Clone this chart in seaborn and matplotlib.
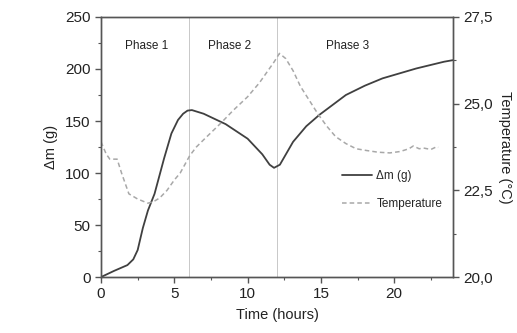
import numpy as np
import pandas as pd
import matplotlib
matplotlib.use("Agg")
import matplotlib.pyplot as plt
from matplotlib.ticker import MultipleLocator, FuncFormatter
import seaborn as sns

# mass change (g) vs time (hours)
mass_t = [0, 0.9, 1.8, 2.2, 2.5, 2.85, 3.2, 3.65, 4.3, 4.8, 5.25, 5.6, 5.9,
          6.2, 7.0, 8.5, 10.0, 11.0, 11.5, 11.8, 12.2, 13.1, 14.0, 14.9,
          16.7, 18.0, 19.2, 21.5, 23.4, 24.0]
mass_g = [0, 6, 11.5, 17, 26, 47, 64, 80, 114, 138, 151, 157, 160,
          160.5, 157, 147, 133, 118, 108, 105, 108, 130, 145, 156,
          175, 184, 191, 200.5, 207, 208.5]

# temperature (degC) vs time (hours)
temp_t = [0, 0.35, 0.6, 1.1, 1.4, 1.9, 2.5, 3.2, 3.6, 4.0, 4.5, 5.0, 5.4,
          5.7, 6.05, 6.5, 7.1, 8.2, 9.0, 10.0, 10.8, 11.3, 11.8, 12.17,
          12.6, 13.1, 13.6, 14.2, 14.8, 15.4, 16.0, 16.7, 17.4, 18.1, 18.9,
          19.7, 20.4, 21.0, 21.3, 21.7, 22.0, 22.5, 22.9, 23.0]
temp_c = [23.9, 23.55, 23.4, 23.4, 23.0, 22.4, 22.25, 22.13, 22.18, 22.28,
          22.5, 22.8, 23.0, 23.23, 23.5, 23.75, 24.0, 24.45, 24.8, 25.2,
          25.6, 25.9, 26.2, 26.45, 26.3, 25.95, 25.5, 25.1, 24.7, 24.35,
          24.05, 23.85, 23.7, 23.65, 23.6, 23.58, 23.62, 23.7, 23.78, 23.7,
          23.72, 23.68, 23.76, 23.74]

phase_names = ["Phase 1", "Phase 2", "Phase 3"]
phase_label_x = [3.1, 8.8, 16.8]
phase_bounds = [6, 12]

mass_df = pd.DataFrame({"time": mass_t, "mass": mass_g})
temp_df = pd.DataFrame({"time": temp_t, "temp": temp_c})

sns.set_theme(style="ticks")
plt.rcParams["font.family"] = ["Liberation Sans", "DejaVu Sans"]
plt.rcParams["xtick.direction"] = "out"
plt.rcParams["ytick.direction"] = "out"

fig = plt.figure(figsize=(5.17, 3.33), dpi=100)
ax = fig.add_axes([0.1954, 0.168, 0.6806, 0.781])
ax2 = ax.twinx()

for b in phase_bounds:
    ax.axvline(b, color="#c8c8c8", linewidth=0.7, zorder=0)

sns.lineplot(data=mass_df, x="time", y="mass", ax=ax, color="#404040",
             linewidth=1.3, sort=False, label="\u0394m (g)", legend=False)
sns.lineplot(data=temp_df, x="time", y="temp", ax=ax2, color="#a8a8a8",
             linewidth=1.1, linestyle=(0, (3, 2)), sort=False,
             label="Temperature", legend=False)

for name, px in zip(phase_names, phase_label_x):
    ax.text(px, 222, name, ha="center", va="center", fontsize=8.5, color="#222222")

ax.set_xlim(0, 24)
ax.set_ylim(0, 250)
ax2.set_ylim(20, 27.5)

ax.xaxis.set_major_locator(MultipleLocator(5))
ax.xaxis.set_minor_locator(MultipleLocator(2.5))
ax.yaxis.set_major_locator(MultipleLocator(50))
ax.yaxis.set_minor_locator(MultipleLocator(25))
ax2.yaxis.set_major_locator(MultipleLocator(2.5))
ax2.yaxis.set_minor_locator(MultipleLocator(1.25))
ax2.yaxis.set_major_formatter(FuncFormatter(lambda v, p: f"{v:.1f}".replace(".", ",")))

for a in (ax, ax2):
    for s in a.spines.values():
        s.set_visible(True)
        s.set_color("#555555")
        s.set_linewidth(1.0)
    a.tick_params(which="major", length=4, width=1, colors="#555555",
                  labelcolor="#222222", labelsize=11)
    a.tick_params(which="minor", length=2.5, width=0.8, colors="#555555")

ax.set_xlabel("Time (hours)", fontsize=10.5, color="#222222", labelpad=5)
ax.set_ylabel("\u0394m (g)", fontsize=10.5, color="#222222", labelpad=5)
ax2.set_ylabel("Temperature (\u00b0C)", fontsize=10.5, color="#222222",
               rotation=270, labelpad=14)

h1, l1 = ax.get_legend_handles_labels()
h2, l2 = ax2.get_legend_handles_labels()
ax2.legend(h1 + h2, l1 + l2, loc="center right", bbox_to_anchor=(1.0, 0.335),
           frameon=False, fontsize=8.5, handlelength=2.5, labelspacing=1.4,
           handletextpad=0.4)

fig.savefig("out.png", dpi=100)
